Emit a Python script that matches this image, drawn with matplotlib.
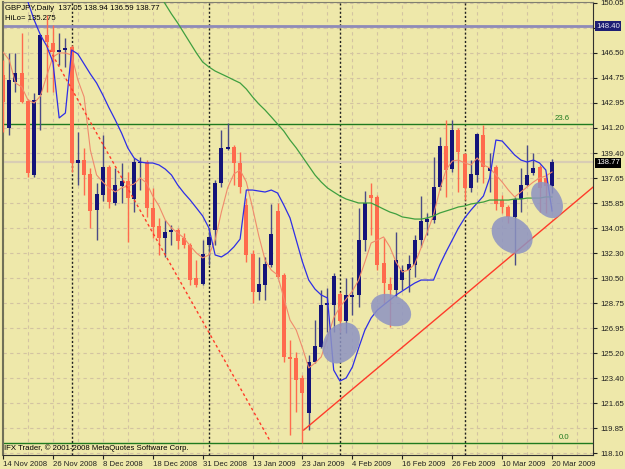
import numpy as np
import pandas as pd
import matplotlib
matplotlib.use("Agg")
import matplotlib.pyplot as plt
from matplotlib.patches import Ellipse
from matplotlib.transforms import ScaledTranslation

# daily bars, 14 Nov 2008 .. 20 Mar 2009 (no bars on 25 Dec and 1 Jan)
dates = pd.bdate_range("2008-11-14", "2009-03-20")
dates = dates[~dates.isin(pd.to_datetime(["2008-12-25", "2009-01-01"]))]

opens = np.array([
    144.94, 141.17, 144.44, 145.08, 143.09, 137.84, 143.52, 147.78, 147.21, 146.57,
    146.71, 146.93, 138.69, 138.90, 137.91, 135.35, 136.42, 138.41, 135.85, 137.06,
    137.41, 136.13, 138.70, 138.76, 135.50, 134.22, 133.37, 133.79, 133.93, 133.37,
    132.87, 130.52, 130.10, 132.87, 133.93, 137.27, 139.69, 139.83, 138.69, 135.71,
    132.23, 129.53, 130.03, 131.45, 135.28, 130.74, 124.92, 124.85, 123.43, 120.94,
    124.56, 125.63, 128.61, 128.61, 129.39, 127.47, 129.18, 129.32, 133.22, 136.42,
    136.28, 131.59, 130.10, 129.67, 130.38, 131.10, 131.45, 133.22, 134.50, 134.64,
    136.99, 139.90, 138.26, 141.03, 139.33, 136.92, 137.84, 140.68, 138.12, 138.41,
    136.06, 135.57, 134.86, 136.13, 137.13, 137.98, 138.41, 137.63, 137.05])
highs = np.array([
    146.00, 146.50, 146.50, 147.92, 143.20, 143.66, 147.85, 149.20, 148.49, 147.92,
    147.57, 147.07, 140.89, 139.76, 138.33, 137.27, 140.68, 138.55, 138.33, 138.69,
    138.05, 139.05, 139.12, 138.90, 136.91, 134.78, 134.64, 134.29, 134.07, 133.72,
    133.00, 131.80, 133.22, 134.07, 137.48, 141.03, 141.53, 139.97, 139.50, 136.20,
    132.51, 132.02, 132.02, 135.78, 135.85, 130.88, 126.12, 125.27, 123.64, 125.06,
    127.54, 129.67, 129.81, 130.88, 129.53, 130.52, 130.60, 135.50, 136.70, 137.27,
    136.42, 133.37, 130.60, 133.79, 131.45, 132.16, 133.58, 136.35, 135.14, 139.12,
    140.54, 141.74, 141.74, 141.17, 139.40, 138.90, 140.82, 141.39, 139.40, 138.55,
    136.42, 135.71, 136.28, 138.33, 139.97, 139.40, 138.55, 137.98, 138.94])
lows = np.array([
    140.89, 140.68, 143.73, 142.95, 137.70, 137.70, 141.03, 143.70, 143.73, 145.65,
    145.51, 138.05, 137.13, 136.42, 134.07, 133.22, 135.99, 135.50, 135.71, 135.85,
    133.08, 135.21, 136.77, 134.86, 133.37, 132.16, 132.02, 132.87, 132.59, 132.66,
    130.03, 129.89, 130.03, 131.45, 132.87, 136.99, 139.60, 137.13, 136.56, 131.66,
    128.75, 128.96, 128.96, 131.30, 130.52, 124.56, 119.38, 121.01, 118.81, 119.73,
    124.49, 125.56, 126.69, 126.69, 126.69, 126.62, 127.90, 128.47, 132.44, 133.58,
    131.10, 128.75, 127.05, 129.18, 129.67, 129.53, 130.60, 132.73, 133.58, 134.43,
    136.77, 136.28, 138.05, 136.63, 136.06, 136.63, 137.34, 137.27, 136.63, 135.35,
    135.14, 134.43, 131.45, 135.21, 137.06, 137.84, 135.21, 135.14, 136.59])
closes = np.array([
    143.02, 144.58, 145.08, 143.02, 137.98, 143.16, 147.78, 147.28, 146.57, 146.71,
    146.86, 138.69, 138.90, 137.84, 135.28, 136.49, 138.41, 135.92, 137.13, 137.41,
    136.20, 138.76, 138.76, 135.50, 134.15, 133.37, 133.79, 133.93, 133.15, 132.87,
    130.38, 130.03, 132.23, 133.44, 137.27, 139.76, 139.83, 138.69, 136.99, 132.16,
    129.53, 130.10, 131.52, 133.65, 130.60, 124.92, 124.78, 123.28, 122.36, 124.56,
    125.70, 128.61, 128.75, 130.67, 127.47, 129.32, 129.32, 133.22, 135.85, 136.20,
    131.45, 130.17, 129.67, 131.80, 131.10, 131.52, 133.22, 134.57, 134.71, 136.99,
    139.90, 138.19, 141.03, 139.47, 136.92, 137.91, 140.75, 138.41, 138.33, 135.78,
    135.57, 134.86, 136.13, 137.13, 137.84, 138.33, 136.90, 137.05, 138.77])

# fast moving average (salmon), one value per bar
fast_ma = np.array([
    146.57, 146.00, 144.37, 144.09, 143.16, 142.95, 143.45, 144.87, 146.22, 146.50,
    146.50, 146.36, 144.58, 143.38, 139.61, 137.84, 137.34, 136.92, 136.63, 136.92,
    137.06, 137.20, 137.63, 137.27, 136.35, 135.64, 134.64, 134.08, 133.72, 133.37,
    132.80, 132.30, 131.95, 132.16, 133.22, 135.21, 136.92, 137.91, 138.19, 137.34,
    135.50, 133.51, 131.80, 131.09, 130.74, 129.11, 127.54, 126.83, 125.56, 124.14,
    124.49, 124.92, 126.27, 127.69, 128.47, 129.03, 129.60, 130.38, 131.66, 133.01,
    133.22, 133.44, 132.73, 131.66, 130.95, 131.09, 131.52, 132.66, 133.79, 135.00,
    136.77, 138.19, 138.83, 138.90, 138.69, 138.55, 139.05, 138.55, 138.34, 137.84,
    137.34, 136.77, 136.28, 136.63, 136.99, 137.34, 137.63, 137.77, 138.05])

# HiLo indicator (blue), starts at bar 3
hilo_start = 3
hilo = np.array([
    152.04, 150.12, 148.84, 147.78, 147.00, 145.86, 141.89, 142.24, 146.71, 146.43,
    145.72, 145.01, 144.37, 143.52, 142.60, 141.74, 140.82, 139.76, 139.05, 138.76,
    138.69, 138.69, 138.55, 138.26, 137.84, 137.13, 136.56, 136.06, 135.50, 134.93,
    134.08, 132.16, 132.02, 132.30, 132.73, 133.29, 136.77, 136.77, 136.70, 136.63,
    136.77, 136.56, 135.71, 134.79, 133.22, 131.66, 130.38, 129.74, 129.32, 129.11,
    123.99, 123.21, 123.43, 124.21, 125.56, 126.83, 127.69, 128.25, 128.61, 128.96,
    129.32, 129.60, 129.89, 130.17, 130.38, 130.38, 130.38, 131.45, 132.37, 133.22,
    134.08, 134.79, 135.35, 135.85, 136.35, 137.63, 140.32, 140.25, 139.76, 139.26,
    138.90, 138.76, 138.90, 138.69, 138.19, 135.28])

# slow moving average (green), starts at bar 25
sma_start = 25
sma = np.array([
    150.83, 149.98, 149.27, 148.63, 147.92, 147.21, 146.50, 145.86, 145.51, 145.22,
    145.01, 144.80, 144.58, 144.37, 143.94, 143.38, 142.88, 142.45, 141.96, 141.46,
    140.96, 140.32, 139.76, 139.12, 138.48, 137.84, 137.34, 136.92, 136.63, 136.35,
    136.13, 135.99, 135.85, 135.85, 135.85, 135.64, 135.42, 135.21, 135.07, 134.86,
    134.79, 134.71, 134.71, 134.79, 134.93, 135.14, 135.28, 135.42, 135.57, 135.64,
    135.78, 135.85, 135.92, 136.06, 136.06, 136.06, 136.06, 136.13, 136.13, 136.20,
    136.20, 136.20, 136.28, 136.28])

# price axis labels (every 1.775)
ytick_vals = 150.05 - 1.775 * np.arange(19)
ytick_labels = ["150.05", "", "146.50", "144.75", "142.95", "141.20", "139.40",
                "137.65", "135.85", "134.05", "132.30", "130.50", "128.75",
                "126.95", "125.20", "123.40", "121.65", "119.85", "118.10"]

# drawn objects
level_line = 148.40
bid = 138.77
fib_levels = [141.46, 118.81]
fib_labels = ["23.6", "0.0"]
down_trend = ([7.04, 42.9], [147.07, 118.88])
up_trend = ([48.2, 95.0], [119.73, 137.14])
marks = [(54.2, 125.91), (62.2, 128.25), (81.6, 133.58), (87.2, 136.06)]

bg = "#EEE8AA"
bull = "#14147a"
bear = "#ff6a4d"
font = "Liberation Sans"
fs = 5.6

fig = plt.figure(figsize=(6.25, 4.69), dpi=100, facecolor=bg)
ax = fig.add_axes([3 / 625, 14 / 469, 590 / 625, 453 / 469], facecolor=bg)

x = np.arange(len(dates))
ax.set_xlim(0.16, 94.56)
ax.set_ylim(117.96, 150.12)

# grid
for gx in range(0, 96, 4):
    ax.axvline(gx, color="#d3c3a2", lw=0.8, dashes=(3, 3), zorder=0)
for gy in ytick_vals:
    ax.axhline(gy, color="#d3c3a2", lw=0.8, dashes=(3, 3), zorder=0)

# month separators
month_start = np.r_[True, dates.month[1:] != dates.month[:-1]][1:]
for i in x[1:][month_start]:
    ax.axvline(i, color="#202020", lw=1, ls=(0, (1.5, 1.5)), zorder=1)

ax.axhline(bid, color="#d9cdb4", lw=1.6, zorder=1)
ax.axhline(level_line, color="#8e8ab8", lw=2, zorder=1)
for lv, lb in zip(fib_levels, fib_labels):
    ax.axhline(lv, color="#1f7a1f", lw=1, zorder=1)
    ax.text(90.8, lv + 0.15, lb, color="#1f7a1f", fontsize=fs, family=font,
            ha="right", va="bottom")

# candles
up = closes >= opens
body = np.maximum(np.abs(closes - opens), 0.09)
ax.vlines(x[up], lows[up], highs[up], color="#4a4a86", lw=1, zorder=3)
ax.vlines(x[~up], lows[~up], highs[~up], color=bear, lw=1, zorder=3)
ax.bar(x[up], body[up], bottom=opens[up], width=0.64, color=bull, zorder=4)
ax.bar(x[~up], body[~up], bottom=closes[~up], width=0.64, color=bear, zorder=4)

# indicators
ax.plot(x, fast_ma, color="#f08a6c", lw=0.8, zorder=5)
ax.plot(x[hilo_start:], hilo, color="#2e2ee6", lw=0.9, zorder=5)
ax.plot(x[sma_start:], sma, color="#3f9f3f", lw=0.9, zorder=5)

# trend lines
ax.plot(*down_trend, color="#ff3b2a", lw=1, dashes=(2, 2), zorder=5)
ax.plot(*up_trend, color="#ff3b2a", lw=1, zorder=5)

# ellipses drawn on the chart
sizes = [(44, 34, 55), (42, 30, -25), (44, 34, -35), (40, 27, -55)]
for (cx, cy), (w, h, a) in zip(marks, sizes):
    tr = fig.dpi_scale_trans + ScaledTranslation(cx, cy, ax.transData)
    ax.add_patch(Ellipse((0, 0), w / 100, h / 100, angle=a, transform=tr,
                         facecolor="#8d93c2", edgecolor="none", alpha=0.85,
                         zorder=6))

# axes
ax.yaxis.tick_right()
ax.set_yticks(ytick_vals)
ax.set_yticklabels(ytick_labels, family=font, fontsize=fs, color="#202020")
ticks = x[::8]
ax.set_xticks(ticks)
ax.set_xticklabels([f"{d.day} {d:%b %Y}" for d in dates[::8]], family=font,
                   fontsize=fs, color="#202020", ha="left")
ax.tick_params(axis="y", length=3, width=0.8, pad=2, colors="#202020")
ax.tick_params(axis="x", length=3, width=0.8, pad=1.5, colors="#202020")
ax.spines["left"].set_color("#707058")
ax.spines["left"].set_linewidth(1.5)
ax.spines["top"].set_color("#808070")
ax.spines["right"].set_color("#303030")
ax.spines["bottom"].set_color("#303030")

# texts
fig.text(5 / 625, 1 - 8 / 469, "GBPJPY,Daily  137.05 138.94 136.59 138.77",
         family=font, fontsize=fs, va="center", color="black")
fig.text(5 / 625, 1 - 19 / 469, "HiLo= 135.275", family=font, fontsize=fs,
         va="center", color="black")
fig.text(4 / 625, 1 - 448 / 469,
         "IFX Trader, \u00a9 2001-2008 MetaQuotes Software Corp.",
         family=font, fontsize=fs, va="center", color="black")
fig.text(596 / 625, 1 - 26 / 469, "148.40", family=font, fontsize=fs,
         va="center", color="#e8e8f0",
         bbox=dict(boxstyle="square,pad=0.15", fc="#1e1e74", ec="none"))
fig.text(596 / 625, 1 - 163 / 469, "138.77", family=font, fontsize=fs,
         va="center", color="white",
         bbox=dict(boxstyle="square,pad=0.15", fc="black", ec="none"))

fig.savefig("out.png", dpi=100, facecolor=bg)
plt.close(fig)
